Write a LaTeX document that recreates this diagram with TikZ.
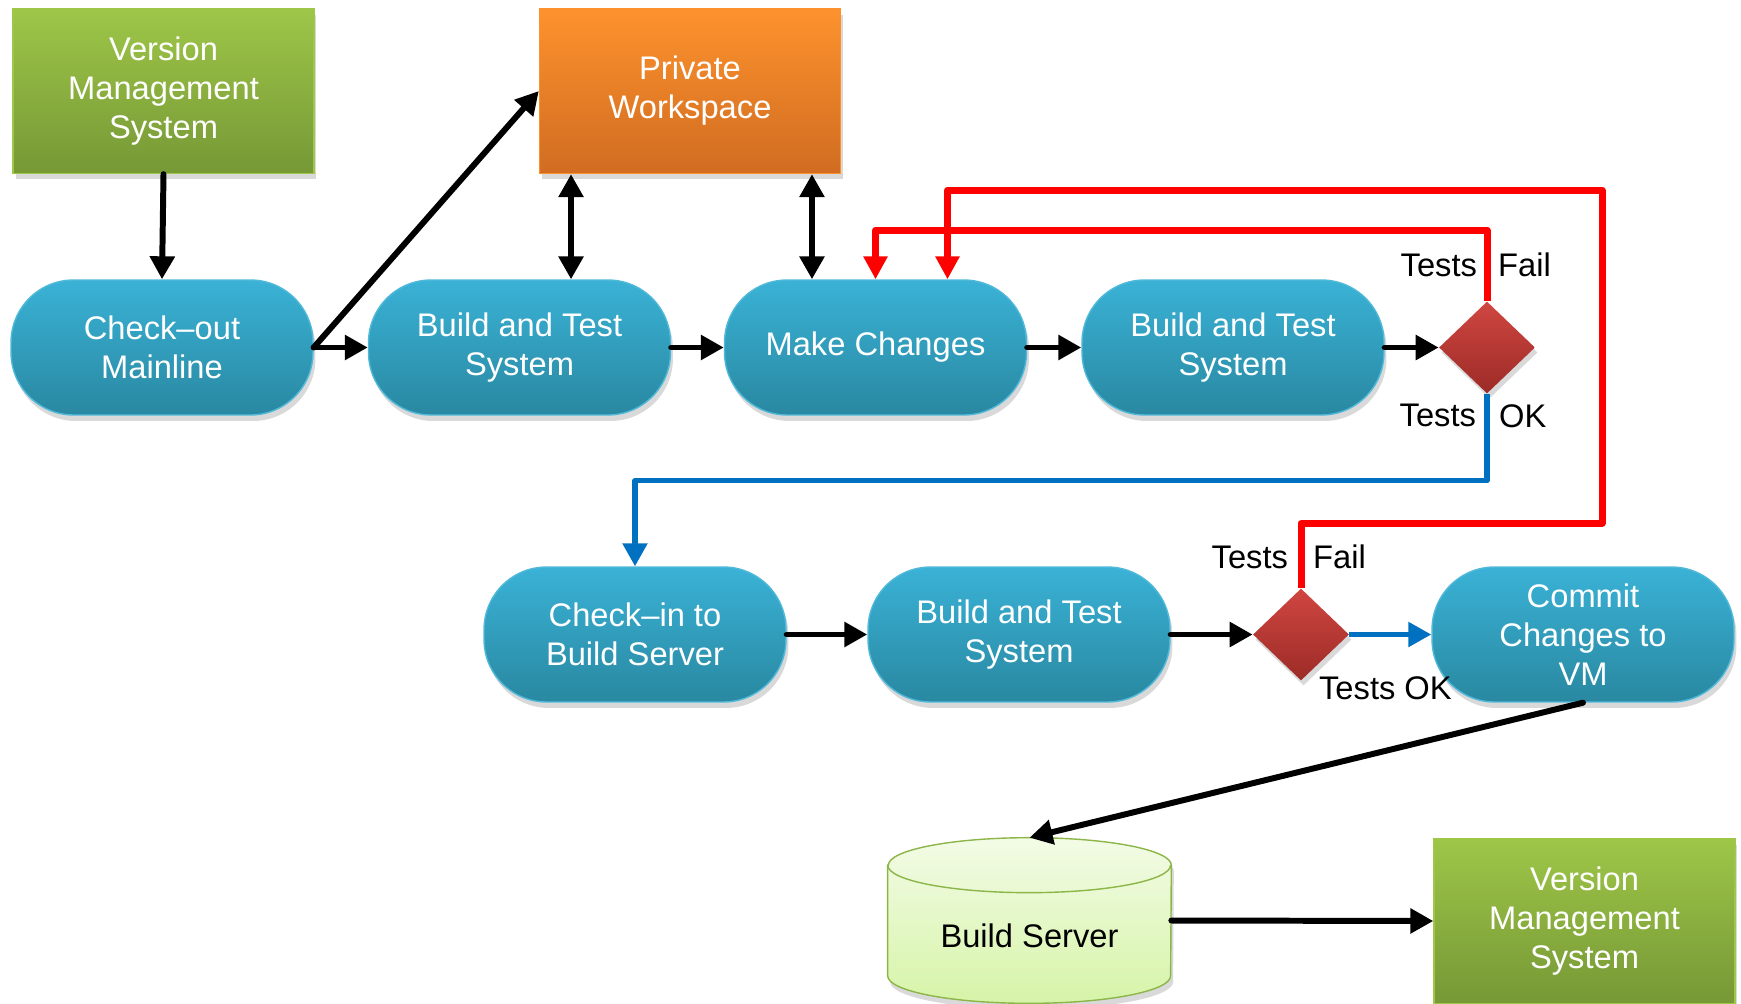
\documentclass[tikz,border=0pt]{standalone}
\usepackage{fontspec}
\setmainfont{Liberation Sans}
\usetikzlibrary{arrows.meta,shapes.geometric,shadows}

\definecolor{procTop}{RGB}{58,178,214}
\definecolor{procBot}{RGB}{41,136,161}
\definecolor{procLine}{RGB}{80,185,218}
\definecolor{vmTop}{RGB}{158,198,72}
\definecolor{vmBot}{RGB}{118,152,54}
\definecolor{wsTop}{RGB}{253,146,45}
\definecolor{wsBot}{RGB}{209,108,33}
\definecolor{decTop}{RGB}{208,70,65}
\definecolor{decBot}{RGB}{156,43,39}
\definecolor{srvTop}{RGB}{243,251,230}
\definecolor{srvBot}{RGB}{214,244,168}
\definecolor{srvLine}{RGB}{140,182,72}
\definecolor{failRed}{RGB}{255,0,0}
\definecolor{passBlue}{RGB}{0,112,192}

\begin{document}
\begin{tikzpicture}[x=0.02cm,y=-0.02cm,
  every node/.style={font=\fontsize{18.6}{22.2}\selectfont},
  proc/.style={rounded corners=1.25cm,minimum width=6.04cm,minimum height=2.7cm,top color=procTop,bottom color=procBot,draw=procLine,line width=0.8pt,text=white,align=center,drop shadow={opacity=0.3,shadow xshift=0.05cm,shadow yshift=-0.12cm}},
  store/.style={minimum width=6.02cm,minimum height=3.3cm,line width=0.8pt,text=white,align=center,drop shadow={opacity=0.3,shadow xshift=0.05cm,shadow yshift=-0.12cm}},
  check/.style={diamond,inner sep=0pt,minimum width=1.92cm,minimum height=1.84cm,top color=decTop,bottom color=decBot,drop shadow={opacity=0.3,shadow xshift=0.05cm,shadow yshift=-0.1cm}},
  lbl/.style={inner sep=1pt,text=black},
  flow/.style={line width=3.4pt,line cap=round,-{Triangle[length=0.46cm,width=0.48cm]}},
  both/.style={line width=3.4pt,{Triangle[length=0.46cm,width=0.48cm]}-{Triangle[length=0.46cm,width=0.48cm]}},
  fail/.style={failRed,line width=4pt,line join=round,-{Triangle[length=0.46cm,width=0.46cm]}},
  pass/.style={passBlue,line width=3pt,line join=round,-{Triangle[length=0.46cm,width=0.48cm]}}]
\useasboundingbox (0,0) rectangle (1741,1004);

% storage boxes
\node[store,top color=vmTop,bottom color=vmBot,draw=vmTop] (vm) at (163.5,91) {Version\\Management\\System};
\node[store,top color=wsTop,bottom color=wsBot,draw=wsTop] (ws) at (690,91) {Private\\Workspace};
\node[store,top color=vmTop,bottom color=vmBot,draw=vmTop] (vm2) at (1584.5,921) {Version\\Management\\System};

% first row
\node[proc] (co) at (162,347.5) {Check–out\\Mainline};
\node[proc] (bt1) at (519.5,347.5) {Build and Test\\System};
\node[proc] (mc) at (875.5,347.5) {Make Changes};
\node[proc] (bt2) at (1233,347.5) {Build and Test\\System};
\node[check] (d1) at (1487,347.5) {};

% second row
\node[proc] (ci) at (635,634.5) {Check–in to\\Build Server};
\node[proc] (bt3) at (1019,634.5) {Build and Test\\System};
\node[check] (d2) at (1301,634.5) {};
\node[proc] (cm) at (1583,634.5) {Commit\\Changes to\\VM};

% build server
\node[minimum width=5.66cm,minimum height=3.3cm,inner sep=0pt] (srv) at (1029.5,920.5) {};
\shade[top color=srvTop,bottom color=srvBot,draw=srvLine,line width=0.8pt,drop shadow={opacity=0.3,shadow xshift=0.05cm,shadow yshift=-0.12cm}]
  ([yshift=-0.55cm]srv.north west) -- ([yshift=0.55cm]srv.south west)
  arc[start angle=180,end angle=360,x radius=2.83cm,y radius=0.55cm]
  -- ([yshift=-0.55cm]srv.north east)
  arc[start angle=0,end angle=180,x radius=2.83cm,y radius=0.55cm] -- cycle;
\draw[srvLine,line width=0.8pt] ([yshift=-0.55cm]srv.north west) arc[start angle=180,end angle=360,x radius=2.83cm,y radius=0.55cm];
\node[lbl] (srvtext) at (1029.5,936) {Build Server};

% labels
\node[lbl,anchor=east] (t1) at ([xshift=-0.16cm,yshift=0.72cm]d1.north) {Tests};
\node[lbl,anchor=west] (f1) at ([xshift=0.18cm,yshift=0.72cm]d1.north) {Fail};
\node[lbl,anchor=east] (t2) at ([xshift=-0.18cm,yshift=-0.44cm]d1.south) {Tests};
\node[lbl,anchor=west] (ok2) at ([xshift=0.2cm,yshift=-0.44cm]d1.south) {OK};
\node[lbl,anchor=east] (t3) at ([xshift=-0.22cm,yshift=0.62cm]d2.north) {Tests};
\node[lbl,anchor=west] (f3) at ([xshift=0.2cm,yshift=0.62cm]d2.north) {Fail};
\node[lbl,anchor=west] (ok4) at ([xshift=0.32cm,yshift=-0.14cm]d2.south) {Tests OK};

% black connectors
\draw[flow] (vm.south) -- (co.north);
\draw[flow] (co.east) -- (bt1.west);
\draw[flow] (co.east) -- (ws.west);
\draw[flow] (bt1.east) -- (mc.west);
\draw[flow] (mc.east) -- (bt2.west);
\draw[flow] (bt2.east) -- (d1.west);
\draw[flow] (ci.east) -- (bt3.west);
\draw[flow] (bt3.east) -- (d2.west);
\draw[flow] (cm.south) -- (srv.north);
\draw[flow] (srv.east) -- (vm2.west);
\draw[both] ([xshift=-2.38cm]ws.south) -- ([xshift=-2.38cm]ws.south |- bt1.north);
\draw[both] ([xshift=2.44cm]ws.south) -- ([xshift=2.44cm]ws.south |- mc.north);

% test outcomes
\draw[fail] (d1.north) -- ++(0,-71) -| (mc.north);
\draw[fail] (d2.north) -- ++(0,-65) -| ++(301,-333) -| ([xshift=1.44cm]mc.north);
\draw[pass] (d1.south) -- ++(0,87) -| (ci.north);
\draw[pass] (d2.east) -- (cm.west);
\end{tikzpicture}
\end{document}
